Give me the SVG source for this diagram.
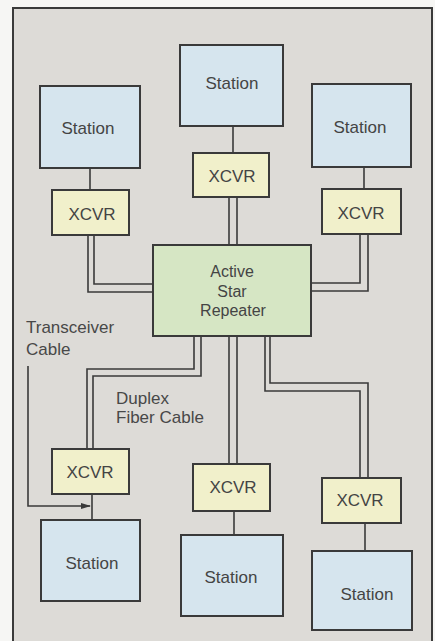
<svg xmlns="http://www.w3.org/2000/svg" width="435" height="641" viewBox="0 0 435 641">
  <defs>
    <style>
      .station { fill: #d6e5ee; stroke: #3a3a3a; stroke-width: 2; }
      .xcvr { fill: #f1f0cb; stroke: #3a3a3a; stroke-width: 2; }
      .rep { fill: #d6e6c4; stroke: #3a3a3a; stroke-width: 2; }
      .wire { fill: none; stroke: #3a3a3a; stroke-width: 1.6; }
      .t { font-family: "Liberation Sans", Arial, sans-serif; fill: #444444; text-anchor: middle; font-size: 17px; }
      .lbl { font-family: "Liberation Sans", Arial, sans-serif; fill: #484848; font-size: 17px; }
    </style>
    <marker id="arr" markerWidth="10" markerHeight="8" refX="9" refY="4" orient="auto" markerUnits="userSpaceOnUse">
      <path d="M0,1 L10,4 L0,7 Z" fill="#3a3a3a"/>
    </marker>
  </defs>
  <rect x="0" y="0" width="435" height="641" fill="#f6f6f4"/>
  <rect x="13" y="8" width="419" height="640" fill="#dddbd7" stroke="#3a3a3a" stroke-width="2"/>

  <g id="connectors">
    <path class="wire" d="M88,235 V292 H153"/>
    <path class="wire" d="M94,235 V284 H153"/>
    <path class="wire" d="M229,197 V245"/>
    <path class="wire" d="M237,197 V245"/>
    <path class="wire" d="M360,234 V283 H311"/>
    <path class="wire" d="M368,234 V291 H311"/>
    <path class="wire" d="M194,336 V369 H87 V449"/>
    <path class="wire" d="M201,336 V376 H93 V449"/>
    <path class="wire" d="M229,336 V464"/>
    <path class="wire" d="M237,336 V464"/>
    <path class="wire" d="M265,336 V391 H360 V478"/>
    <path class="wire" d="M270,336 V383 H368 V478"/>
    <path class="wire" d="M90,168 V190"/>
    <path class="wire" d="M233,126 V153"/>
    <path class="wire" d="M364,167 V189"/>
    <path class="wire" d="M92,494 V520"/>
    <path class="wire" d="M234,511 V535"/>
    <path class="wire" d="M365,523 V551"/>
    <path class="wire" d="M28,366 V506 H90" marker-end="url(#arr)"/>
  </g>

  <g id="station-tl"><rect class="station" x="40" y="86" width="100" height="82"/><text class="t" x="88" y="134">Station</text></g>
  <g id="station-tm"><rect class="station" x="180" y="45" width="103" height="81"/><text class="t" x="232" y="89">Station</text></g>
  <g id="station-tr"><rect class="station" x="312" y="84" width="99" height="83"/><text class="t" x="360" y="133">Station</text></g>

  <g id="xcvr-tl"><rect class="xcvr" x="52" y="190" width="77" height="45"/><text class="t" x="92" y="220">XCVR</text></g>
  <g id="xcvr-tm"><rect class="xcvr" x="193" y="153" width="76" height="44"/><text class="t" x="232" y="182">XCVR</text></g>
  <g id="xcvr-tr"><rect class="xcvr" x="322" y="189" width="79" height="45"/><text class="t" x="361" y="219">XCVR</text></g>

  <g id="repeater">
    <rect class="rep" x="153" y="245" width="158" height="91"/>
    <text class="t" x="232" y="277" style="font-size:16px">Active</text>
    <text class="t" x="232" y="297" style="font-size:16px">Star</text>
    <text class="t" x="233" y="316" style="font-size:16px">Repeater</text>
  </g>

  <g id="xcvr-bl"><rect class="xcvr" x="52" y="449" width="77" height="45"/><text class="t" x="90" y="478">XCVR</text></g>
  <g id="xcvr-bm"><rect class="xcvr" x="193" y="464" width="77" height="47"/><text class="t" x="233" y="493">XCVR</text></g>
  <g id="xcvr-br"><rect class="xcvr" x="322" y="478" width="79" height="45"/><text class="t" x="360" y="506">XCVR</text></g>

  <g id="station-bl"><rect class="station" x="41" y="520" width="99" height="81"/><text class="t" x="92" y="569">Station</text></g>
  <g id="station-bm"><rect class="station" x="181" y="535" width="102" height="81"/><text class="t" x="231" y="583">Station</text></g>
  <g id="station-br"><rect class="station" x="312" y="551" width="100" height="79"/><text class="t" x="367" y="600">Station</text></g>

  <g id="label-transceiver">
    <text class="lbl" x="26" y="333">Transceiver</text>
    <text class="lbl" x="26" y="355">Cable</text>
  </g>
  <g id="label-duplex">
    <text class="lbl" x="116" y="404">Duplex</text>
    <text class="lbl" x="116" y="423">Fiber Cable</text>
  </g>
</svg>
